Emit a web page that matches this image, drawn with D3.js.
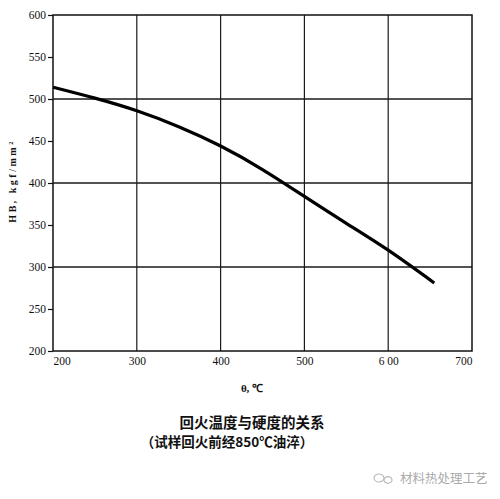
<!DOCTYPE html>
<html>
<head>
<meta charset="utf-8">
<script src="https://cdn.jsdelivr.net/npm/d3@7"></script>
<style>
  body { margin: 0; background: #fff; }
  svg { display: block; }
  .cjk { font-family: 'Noto Sans CJK SC', sans-serif; fill: #111; }
</style>
</head>
<body>
<svg id="chart" width="500" height="499"></svg>
<script>
// tempering temperature (°C) vs hardness (HB)
let temps = [200, 250, 300, 350, 400, 450, 500, 550, 600, 655]
let hardness = [514, 501, 486, 467, 444, 416, 384, 352, 320, 281]

let xTicks = [200, 300, 400, 500, 600, 700]
let yTicks = [200, 250, 300, 350, 400, 450, 500, 550, 600]
let xGrid = [300, 400, 500, 600]
let yGrid = [300, 400, 500]

let svg = d3.select('#chart')

let x = d3.scaleLinear().domain([200, 700]).range([53, 472])
let y = d3.scaleLinear().domain([200, 600]).range([351, 15])

let g = svg.append('g')

// grid
g.selectAll('line.vg').data(xGrid).enter().append('line')
  .attr('x1', d => x(d)).attr('x2', d => x(d))
  .attr('y1', y(600)).attr('y2', y(200))
  .attr('stroke', '#1a1a1a').attr('stroke-width', 1.2)
g.selectAll('line.hg').data(yGrid).enter().append('line')
  .attr('x1', x(200)).attr('x2', x(700))
  .attr('y1', d => y(d)).attr('y2', d => y(d))
  .attr('stroke', '#1a1a1a').attr('stroke-width', 1.4)

// frame
g.append('rect')
  .attr('x', x(200)).attr('y', y(600))
  .attr('width', x(700) - x(200)).attr('height', y(200) - y(600))
  .attr('fill', 'none').attr('stroke', '#111').attr('stroke-width', 1.5)

// y axis
let yAxis = g.append('g')
  .attr('transform', 'translate(' + x(200) + ',0)')
  .call(d3.axisLeft(y).tickValues(yTicks).tickSize(5).tickPadding(2))
  .attr('font-family', 'Liberation Serif, serif')
  .attr('font-size', 11.5)
yAxis.select('.domain').remove()
yAxis.selectAll('line').attr('stroke', '#111').attr('stroke-width', 1.2)
yAxis.selectAll('text').attr('fill', '#111')

// x axis
let xAxis = g.append('g')
  .attr('transform', 'translate(0,' + y(200) + ')')
  .call(d3.axisBottom(x).tickValues(xTicks).tickSize(0).tickPadding(6))
  .attr('font-family', 'Liberation Serif, serif')
  .attr('font-size', 11.5)
xAxis.select('.domain').remove()
xAxis.selectAll('text')
  .attr('fill', '#111')
  .attr('text-anchor', d => d === 200 ? 'start' : d === 700 ? 'end' : 'middle')
  .text(d => d === 600 ? '6 00' : d)

// curve
let line = d3.line()
  .x((d, i) => x(temps[i]))
  .y(d => y(d))
  .curve(d3.curveNatural)
g.append('path')
  .datum(hardness)
  .attr('d', line)
  .attr('fill', 'none')
  .attr('stroke', '#000')
  .attr('stroke-width', 3.2)

// axis titles
svg.append('text')
  .attr('transform', 'translate(16,181) rotate(-90)')
  .attr('text-anchor', 'middle')
  .attr('font-family', 'Liberation Serif, serif')
  .attr('font-weight', 'bold')
  .attr('font-size', 10)
  .attr('letter-spacing', 2.5)
  .attr('fill', '#111')
  .text('HB, kgf/mm²')

svg.append('text')
  .attr('x', 252).attr('y', 392)
  .attr('text-anchor', 'middle')
  .attr('font-family', 'Liberation Serif, serif')
  .attr('font-weight', 'bold')
  .attr('font-size', 11)
  .attr('fill', '#111')
  .text('θ, ℃')

// titles
svg.append('text')
  .attr('class', 'cjk')
  .attr('x', 252).attr('y', 428)
  .attr('text-anchor', 'middle')
  .attr('font-size', 14.5)
  .attr('font-weight', 'bold')
  .text('回火温度与硬度的关系')

svg.append('text')
  .attr('class', 'cjk')
  .attr('x', 227).attr('y', 447)
  .attr('text-anchor', 'middle')
  .attr('font-size', 13.5)
  .attr('font-weight', 'bold')
  .text('（试样回火前经850℃油淬）')

// watermark
let wm = svg.append('g').attr('transform', 'translate(385,478)')
wm.append('ellipse').attr('cx', -6).attr('cy', 0).attr('rx', 5).attr('ry', 4)
  .attr('fill', 'none').attr('stroke', '#bbb').attr('stroke-width', 1.2)
wm.append('ellipse').attr('cx', 3).attr('cy', 2).attr('rx', 4).attr('ry', 3.3)
  .attr('fill', 'none').attr('stroke', '#bbb').attr('stroke-width', 1.2)
wm.append('text')
  .attr('class', 'cjk')
  .attr('x', 15).attr('y', 4.5)
  .attr('font-size', 12.5)
  .style('fill', '#aaa')
  .text('材料热处理工艺')
</script>
</body>
</html>
